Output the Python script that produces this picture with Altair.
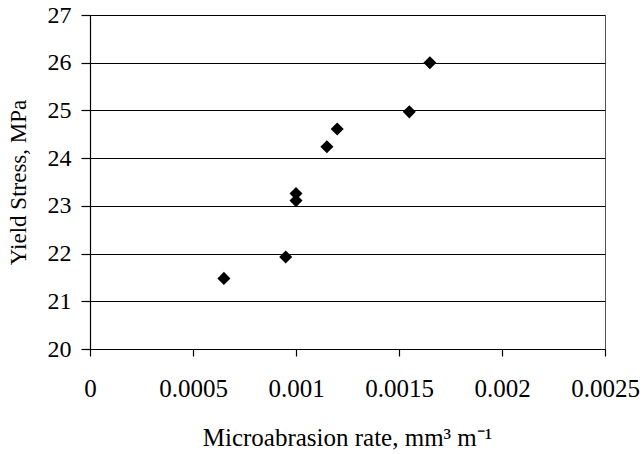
import altair as alt
import pandas as pd

rate = [0.00065, 0.00095, 0.0010, 0.0010, 0.00115, 0.0012, 0.00155, 0.00165]
stress = [21.48, 21.93, 23.26, 23.11, 24.24, 24.61, 24.97, 26.0]
x_ticks = [0, 0.0005, 0.001, 0.0015, 0.002, 0.0025]
y_ticks = [20, 21, 22, 23, 24, 25, 26, 27]

df = pd.DataFrame({"rate": rate, "stress": stress})

FONT = "Liberation Serif"

chart = alt.Chart(df).mark_point(
    shape="diamond", filled=True, color="black", size=170, opacity=1
).encode(
    x=alt.X("rate:Q",
            scale=alt.Scale(domain=[0, 0.0025], nice=False, zero=False),
            axis=alt.Axis(values=x_ticks, format="~g", grid=False,
                          labelFlush=False, labelOverlap=False,
                          labelFontSize=25,
                          title="Microabrasion rate, mm³ m⁻¹",
                          titleFontSize=25,
                          titleX=257, titleY=88, titleAlign="center",
                          titleBaseline="middle",
                          tickSize=7, labelPadding=20)),
    y=alt.Y("stress:Q",
            scale=alt.Scale(domain=[20, 27], nice=False, zero=False),
            axis=alt.Axis(values=y_ticks, grid=True, title="Yield Stress, MPa",
                          labelFontSize=24, titleFontSize=23,
                          titleX=-72, titleY=167, titleAngle=-90,
                          titleAlign="center", titleBaseline="middle",
                          tickSize=9, labelPadding=10)),
).properties(
    width=515, height=334,
    autosize=alt.AutoSizeParams(type="none"),
    padding={"left": 90, "top": 15, "right": 38, "bottom": 105},
    background="white",
).configure_axis(
    labelFont=FONT, titleFont=FONT,
    labelColor="black", titleColor="black", titleFontWeight="normal",
    domainColor="black", tickColor="black", gridColor="black",
    gridOpacity=1, gridWidth=1.2, domainWidth=1.2, tickWidth=1.2,
).configure_view(
    stroke="#555555", strokeWidth=1
)

chart.save("out.html", embed_options={"renderer": "svg", "actions": False})
